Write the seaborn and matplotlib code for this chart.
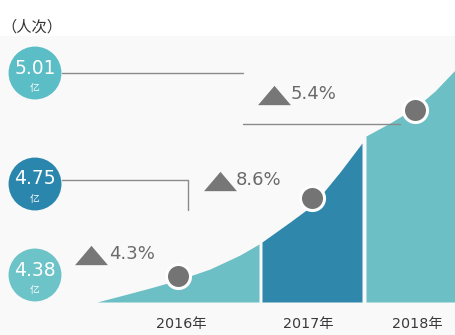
import numpy as np
import pandas as pd
import matplotlib
matplotlib.use("Agg")
import matplotlib.pyplot as plt
import seaborn as sns

# ---------------- data ----------------
years = ["2016年", "2017年", "2018年"]
visitors = [4.38, 4.75, 5.01]          # 亿人次
growth = ["4.3%", "8.6%", "5.4%"]
unit_label = "（人次）"
unit = "亿"

# ---------------- layout (infographic pixel space) ----------------
W, H = 455, 335
marker_x = [178, 312, 415]
marker_y = [276, 198, 110]
label_x = [181, 308, 417]
badge_y = [275, 184, 73]
badge_colors = ["#6cc3c8", "#2a86ad", "#5bbdc6"]
tri_x = [91, 220, 274]
tri_y = [255, 181, 95]
pct_x = [109, 236, 291]

curve_x = [97, 120, 150, 178, 210, 240, 259, 262, 290, 313, 340, 362, 366, 390, 415, 435, 455]
curve_y = [302, 296, 288, 280, 269, 255, 244, 242, 222, 205, 172, 143, 136, 123, 108, 91, 70]
seg_ranges = [(97, 259), (262, 362), (366, 455)]
seg_colors = ["#6cbfc5", "#2f87ab", "#6cbfc5"]
baseline = 302

sns.set_theme(style="white")
plt.rcParams["font.family"] = ["DejaVu Sans", "Noto Sans CJK SC"]

fig = plt.figure(figsize=(4.55, 3.35), dpi=100)
ax = fig.add_axes([0, 0, 1, 1])
ax.set_xlim(0, W)
ax.set_ylim(H, 0)
ax.axis("off")

# light grey panel
ax.axhspan(36, H, color="#f9f9f9", zorder=0, lw=0)

# area segments
cx = np.array(curve_x)
cy = np.array(curve_y)
for (a, b), col in zip(seg_ranges, seg_colors):
    m = (cx >= a) & (cx <= b)
    ax.fill_between(cx[m], cy[m], baseline, color=col, lw=0, zorder=1)

# connector lines
line_col = "#8a8a8a"
ax.plot([62, 243], [badge_y[2], badge_y[2]], color=line_col, lw=1.0, zorder=2)
ax.plot([243, 400], [124, 124], color=line_col, lw=1.0, zorder=2)
ax.plot([62, 188, 188], [badge_y[1] - 4, badge_y[1] - 4, 210], color=line_col, lw=1.0, zorder=2)

# markers on the curve
dfm = pd.DataFrame({"x": marker_x, "y": marker_y, "year": years})
sns.scatterplot(data=dfm, x="x", y="y", s=300, color="#747474",
                edgecolor="white", linewidth=2.2, ax=ax, legend=False, zorder=4)

# badges on the left
dfb = pd.DataFrame({"x": [35] * 3, "y": badge_y, "v": visitors})
sns.scatterplot(data=dfb, x="x", y="y", hue="v", palette=badge_colors, s=1450,
                linewidth=0, ax=ax, legend=False, zorder=3)
for v, y in zip(visitors, badge_y):
    ax.text(35, y - 5, f"{v:.2f}", color="white", fontsize=13.5, ha="center",
            va="center", zorder=5, family="DejaVu Sans")
    ax.text(35, y + 15, unit, color="white", fontsize=7, ha="center",
            va="center", zorder=5, family=["Noto Sans CJK SC"])

# growth triangles + text
tri = [(-1.7, -1), (1.7, -1), (0, 1)]
dft = pd.DataFrame({"x": tri_x, "y": tri_y})
sns.scatterplot(data=dft, x="x", y="y", marker=tri, s=560, color="#777777",
                linewidth=0, ax=ax, legend=False, zorder=3)
for g, x, y in zip(growth, pct_x, tri_y):
    ax.text(x, y - 1, g, color="#6a6a6a", fontsize=13, ha="left", va="center",
            zorder=5, family="DejaVu Sans")

# year labels
for yr, x in zip(years, label_x):
    ax.text(x, 324, yr, color="#3a3a3a", fontsize=10.3, ha="center", va="center",
            family=["DejaVu Sans", "Noto Sans CJK SC"])

# unit label
ax.text(1, 27, unit_label, color="#333333", fontsize=11, ha="left", va="center",
        family=["Noto Sans CJK SC"])

fig.savefig("out.png", dpi=100, facecolor="white")
